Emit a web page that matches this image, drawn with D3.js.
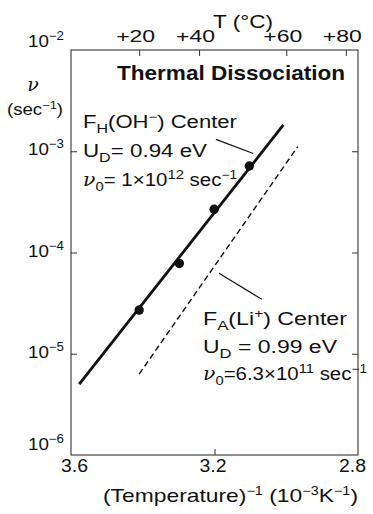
<!DOCTYPE html>
<html>
<head>
<meta charset="utf-8">
<script src="https://cdn.jsdelivr.net/npm/d3@7"></script>
<style>
  body { margin: 0; background: #fff; }
  svg text { font-family: "Liberation Sans", Arial, sans-serif; fill: #111; }
</style>
</head>
<body>
<div id="chart"></div>
<script>
// measured points, F_H(OH-) center
const invT = [3.41, 3.298, 3.201, 3.103];
const rate = [2.7e-5, 7.8e-5, 2.67e-4, 7.15e-4];

// fitted lines (end points)
const fhLineX = [3.577, 3.008];
const fhLineY = [5.0e-6, 1.82e-3];
const faLineX = [3.41, 2.968];
const faLineY = [6.3e-6, 1.11e-3];

// leader lines for the labels
const fhLeaderX = [3.196, 3.092];
const fhLeaderY = [1.31e-3, 9.5e-4];
const faLeaderX = [3.1875, 3.068];
const faLeaderY = [6.23e-5, 3.45e-5];

// axes
const xTicks = [3.6, 3.2, 2.8];
const yExps = [-2, -3, -4, -5, -6];
const topTickPos = [3.41, 3.243, 3.0, 2.834];
const topTickLabels = ["+20", "+40", "+60", "+80"];

const W = 373, H = 514;
const margin = { top: 50, right: 15, bottom: 59, left: 71 };

const svg = d3.select("#chart").append("svg")
  .attr("width", W)
  .attr("height", H);

const x = d3.scaleLinear().domain([3.6, 2.8]).range([margin.left, W - margin.right]);
const y = d3.scaleLog().domain([1e-6, 1e-2]).range([H - margin.bottom, margin.top]);

function fit(t, len) {
  return t.attr("textLength", len).attr("lengthAdjust", "spacingAndGlyphs");
}

// frame
svg.append("rect")
  .attr("x", x(3.6)).attr("y", y(1e-2))
  .attr("width", x(2.8) - x(3.6)).attr("height", y(1e-6) - y(1e-2))
  .attr("fill", "none").attr("stroke", "#333").attr("stroke-width", 1.1);

// bottom axis
const xAxis = svg.append("g")
  .attr("transform", "translate(0," + y(1e-6) + ")")
  .call(d3.axisBottom(x).tickValues(xTicks).tickSizeInner(-6).tickSizeOuter(0).tickFormat(d3.format(".1f")));
xAxis.select(".domain").remove();
xAxis.selectAll(".tick line").attr("stroke", "#333");
xAxis.selectAll(".tick text").attr("y", 17).attr("dx", d => d === 2.8 ? -6 : (d === 3.6 ? 3 : -2))
  .style("font-size", "18px").style("font-family", "'Liberation Sans', Arial, sans-serif").attr("fill", "#111")
  .attr("dy", "0").attr("textLength", 27).attr("lengthAdjust", "spacingAndGlyphs");
xAxis.selectAll(".tick").filter(d => d === 3.6 || d === 2.8).select("line").remove();

// top axis (temperature)
const xTop = svg.append("g")
  .attr("transform", "translate(0," + y(1e-2) + ")")
  .call(d3.axisTop(x).tickValues(topTickPos).tickSizeInner(-6).tickSizeOuter(0)
    .tickFormat((d, i) => topTickLabels[i]));
xTop.select(".domain").remove();
xTop.selectAll(".tick line").attr("stroke", "#333");
xTop.selectAll(".tick text").attr("y", -8).attr("dx", -4)
  .style("font-size", "17px").style("font-family", "'Liberation Sans', Arial, sans-serif").attr("fill", "#111")
  .attr("textLength", 39).attr("lengthAdjust", "spacingAndGlyphs");

// left axis
const yVals = yExps.map(e => Math.pow(10, e));
const yAxis = svg.append("g")
  .attr("transform", "translate(" + x(3.6) + ",0)")
  .call(d3.axisLeft(y).tickValues(yVals).tickSizeInner(-6).tickSizeOuter(0).tickFormat(""));
yAxis.select(".domain").remove();
yAxis.selectAll(".tick line").attr("stroke", "#333");
yAxis.selectAll(".tick").filter(d => d === 1e-2 || d === 1e-6).select("line").remove();

yExps.forEach(e => {
  const off = e === -2 ? -3 : (e === -6 ? -5 : 4);
  const t = svg.append("text")
    .attr("x", x(3.6) - 7)
    .attr("y", y(Math.pow(10, e)) + off)
    .attr("text-anchor", "end")
    .style("font-size", "17px");
  t.append("tspan").text("10");
  t.append("tspan").attr("dy", -7).style("font-size", "12px").text("\u2212" + (-e));
  fit(t, 36);
});

// right ticks
const yRight = svg.append("g")
  .attr("transform", "translate(" + x(2.8) + ",0)")
  .call(d3.axisRight(y).tickValues(yVals.slice(1, 4)).tickSizeInner(-6).tickSizeOuter(0).tickFormat(""));
yRight.select(".domain").remove();
yRight.selectAll(".tick line").attr("stroke", "#333");

// axis titles
fit(svg.append("text")
  .attr("x", 213).attr("y", 28)
  .style("font-size", "18px")
  .text("T (\u00B0C)"), 60);

svg.append("text")
  .attr("x", 33).attr("y", 91)
  .attr("text-anchor", "middle")
  .style("font-family", "'DejaVu Serif', serif").style("font-style", "italic")
  .style("font-size", "19px")
  .text("\u03BD");

const ylab = svg.append("text")
  .attr("x", 7).attr("y", 115)
  .style("font-size", "16px");
ylab.append("tspan").text("(sec");
ylab.append("tspan").attr("dy", -6).style("font-size", "11px").text("\u22121");
ylab.append("tspan").attr("dy", 6).text(")");
fit(ylab, 56);

const xlab = svg.append("text")
  .attr("x", 103).attr("y", 502)
  .style("font-size", "19px");
xlab.append("tspan").text("(Temperature)");
xlab.append("tspan").attr("dy", -7).style("font-size", "12px").text("\u22121");
xlab.append("tspan").attr("dy", 7).text(" (10");
xlab.append("tspan").attr("dy", -7).style("font-size", "12px").text("\u22123");
xlab.append("tspan").attr("dy", 7).text("K");
xlab.append("tspan").attr("dy", -7).style("font-size", "12px").text("\u22121");
xlab.append("tspan").attr("dy", 7).text(")");
fit(xlab, 255);

fit(svg.append("text")
  .attr("x", 117).attr("y", 80)
  .style("font-size", "21px").style("font-weight", "bold")
  .text("Thermal Dissociation"), 228);

// lines
const line = d3.line().x(d => x(d[0])).y(d => y(d[1]));

svg.append("path")
  .attr("d", line(d3.zip(fhLineX, fhLineY)))
  .attr("fill", "none").attr("stroke", "#111").attr("stroke-width", 2.8);

svg.append("path")
  .attr("d", line(d3.zip(faLineX, faLineY)))
  .attr("fill", "none").attr("stroke", "#111").attr("stroke-width", 1.4)
  .attr("stroke-dasharray", "6,3.5");

svg.append("path")
  .attr("d", line(d3.zip(fhLeaderX, fhLeaderY)))
  .attr("fill", "none").attr("stroke", "#111").attr("stroke-width", 1.1);

svg.append("path")
  .attr("d", line(d3.zip(faLeaderX, faLeaderY)))
  .attr("fill", "none").attr("stroke", "#111").attr("stroke-width", 1.1);

svg.selectAll(".pt")
  .data(d3.zip(invT, rate))
  .enter().append("circle")
  .attr("class", "pt")
  .attr("cx", d => x(d[0]))
  .attr("cy", d => y(d[1]))
  .attr("r", 4.7)
  .attr("fill", "#111");

// label blocks
const fs = "18px";
function block(x0, ys, widths, sub, ion, ionSup, udText, nuMant, nuExp, secText) {
  const t1 = svg.append("text").attr("x", x0).attr("y", ys[0]).style("font-size", fs);
  t1.append("tspan").text("F");
  t1.append("tspan").attr("dy", 5).style("font-size", "13px").text(sub);
  t1.append("tspan").attr("dy", -5).text("(" + ion);
  t1.append("tspan").attr("dy", -7).style("font-size", "12px").text(ionSup);
  t1.append("tspan").attr("dy", 7).text(") Center");
  fit(t1, widths[0]);

  const t2 = svg.append("text").attr("x", x0).attr("y", ys[1]).style("font-size", fs);
  t2.append("tspan").text("U");
  t2.append("tspan").attr("dy", 5).style("font-size", "13px").text("D");
  t2.append("tspan").attr("dy", -5).text(udText);
  fit(t2, widths[1]);

  const t3 = svg.append("text").attr("x", x0).attr("y", ys[2]).style("font-size", fs);
  t3.append("tspan").style("font-family", "'DejaVu Serif', serif").style("font-style", "italic").text("\u03BD");
  t3.append("tspan").attr("dy", 5).style("font-size", "13px").text("0");
  t3.append("tspan").attr("dy", -5).text(nuMant + "\u00D710");
  t3.append("tspan").attr("dy", -7).style("font-size", "13px").text(nuExp);
  t3.append("tspan").attr("dy", 7).text(secText);
  t3.append("tspan").attr("dy", -7).style("font-size", "12px").text("\u22121");
  fit(t3, widths[2]);
}

block(83, [128, 157, 186], [154, 124, 154], "H", "OH", "\u2212", "= 0.94 eV", "= 1", "12", " sec");
block(203, [325, 353, 380], [144, 134, 164], "A", "Li", "+", " = 0.99 eV", "=6.3", "11", " sec");
</script>
</body>
</html>
